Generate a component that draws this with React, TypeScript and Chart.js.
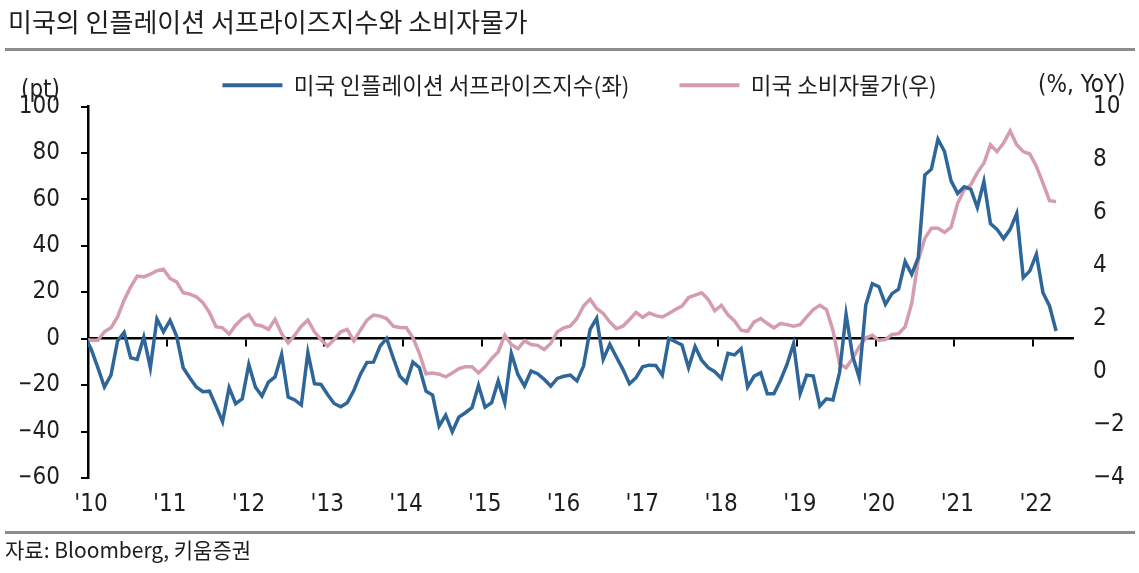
import React, { useEffect, useRef } from 'react';
import { Chart, registerables } from 'chart.js';

Chart.register(...registerables);

const TITLE = '미국의 인플레이션 서프라이즈지수와 소비자물가';
const SOURCE = '자료: Bloomberg, 키움증권';
const SERIES_NAMES = ['미국 인플레이션 서프라이즈지수(좌)', '미국 소비자물가(우)'];
const LEFT_UNIT = '(pt)';
const RIGHT_UNIT = '(%, YoY)';
const YEAR_LABELS = ["'10", "'11", "'12", "'13", "'14", "'15", "'16", "'17", "'18", "'19", "'20", "'21", "'22"];

// month offset of the first observation relative to Jan 2010 (Dec 2009)
const FIRST_MONTH = -1;

const surpriseIndex = [
  1, -4.6, -12.5, -20.8, -15.7, -1.0, 2.7, -8.2, -8.9, 0.7, -12.5, 8.5,
  3.0, 7.9, 1.1, -12.5, -16.8, -20.8, -22.8, -22.6, -29.0, -35.8, -21.1, -28.0,
  -25.9, -11.1, -20.8, -24.7, -18.7, -16.5, -6.8, -25.1, -26.4, -28.6, -6.0, -19.4,
  -19.7, -24.0, -27.9, -29.3, -27.6, -22.3, -15.4, -10.2, -10.1, -3.2, 0.1, -8.2,
  -16.1, -19.0, -10.1, -12.5, -22.6, -24.3, -37.6, -32.9, -40.1, -33.8, -31.9, -29.7,
  -20.1, -29.5, -27.6, -18.2, -27.6, -6.3, -15.4, -20.4, -13.9, -15.1, -17.5, -20.4,
  -17.1, -16.2, -15.7, -18.2, -11.8, 4.0, 8.8, -8.9, -2.4, -7.9, -13.2, -19.4,
  -16.8, -12.1, -11.4, -11.5, -15.7, 0.1, -1.3, -2.7, -12.5, -3.4, -9.3, -12.5,
  -14.2, -17.1, -6.3, -7.0, -4.3, -20.8, -16.1, -14.7, -23.7, -23.7, -18.0, -11.1,
  -2.2, -23.7, -15.7, -16.1, -29.0, -25.9, -26.4, -14.7, 10.5, -7.5, -16.8, 14.5,
  23.7, 22.4, 14.8, 19.4, 21.3, 33.2, 27.7, 34.9, 70.5, 73.0, 85.9, 80.6,
  68.0, 62.5, 65.4, 64.4, 56.5, 67.7, 49.6, 47.1, 43.1, 47.1, 53.9, 26.3,
  29.2, 36.4, 19.8, 14.1, 3.3,
];

const cpiYoY = [
  1.22, 1.19, 1.19, 1.51, 1.66, 2.07, 2.70, 3.20, 3.61, 3.58, 3.68, 3.81,
  3.87, 3.52, 3.39, 2.98, 2.93, 2.83, 2.61, 2.24, 1.70, 1.66, 1.42, 1.76,
  2.01, 2.16, 1.78, 1.73, 1.60, 1.98, 1.44, 1.09, 1.38, 1.72, 1.95, 1.51,
  1.22, 0.97, 1.22, 1.51, 1.60, 1.17, 1.57, 1.95, 2.14, 2.10, 2.01, 1.72,
  1.67, 1.66, 1.29, 0.69, -0.07, -0.04, -0.09, -0.19, -0.04, 0.12, 0.19, 0.19,
  -0.04, 0.19, 0.50, 0.75, 1.38, 1.03, 0.87, 1.17, 1.03, 1.00, 0.84, 1.07,
  1.51, 1.66, 1.73, 2.01, 2.48, 2.74, 2.39, 2.20, 1.88, 1.63, 1.72, 1.97,
  2.24, 2.05, 2.22, 2.12, 2.07, 2.20, 2.35, 2.48, 2.80, 2.89, 2.98, 2.73,
  2.30, 2.51, 2.15, 1.92, 1.57, 1.53, 1.88, 2.01, 1.82, 1.66, 1.82, 1.78,
  1.72, 1.78, 2.07, 2.35, 2.51, 2.35, 1.57, 0.31, 0.15, 0.50, 0.94, 1.28,
  1.38, 1.19, 1.22, 1.41, 1.44, 1.70, 2.58, 4.21, 5.03, 5.41, 5.41, 5.26,
  5.45, 6.35, 6.86, 7.05, 7.51, 7.86, 8.56, 8.30, 8.62, 9.08, 8.56, 8.30,
  8.21, 7.74, 7.11, 6.45, 6.42,
];

const LEFT_MIN = -60;
const LEFT_MAX = 100;
const LEFT_STEP = 20;
const RIGHT_MIN = -4;
const RIGHT_MAX = 10;
const RIGHT_STEP = 2;
const MONTHS_SHOWN = 150;

const BLUE = '#2f6699';
const PINK = '#d49cad';
const TEXT = '#1e1e1e';
const RULE = '#8c8c8c';
const NUM_FONT = "'Liberation Sans Narrow', 'DejaVu Sans Condensed', 'Arial Narrow', 'Liberation Sans', sans-serif";
const KR_FONT = "'Noto Sans CJK KR', 'Noto Sans', sans-serif";

const minus = (v: number | string) => String(v).replace('-', '\u2212');

export default function App() {
  const canvasRef = useRef<HTMLCanvasElement | null>(null);

  useEffect(() => {
    const canvas = canvasRef.current;
    if (!canvas) return;
    const toPoints = (vals: number[]) => vals.map((v, i) => ({ x: FIRST_MONTH + i + 0.5, y: v }));
    const numFont = { family: NUM_FONT, size: 24 };

    const chart = new Chart(canvas, {
      type: 'line',
      data: {
        datasets: [
          {
            label: SERIES_NAMES[0],
            data: toPoints(surpriseIndex),
            xAxisID: 'x',
            yAxisID: 'y',
            borderColor: BLUE,
            backgroundColor: BLUE,
            borderWidth: 3.5,
            pointRadius: 0,
            tension: 0,
            clip: { left: 0, right: false, top: false, bottom: false } as any,
          },
          {
            label: SERIES_NAMES[1],
            data: toPoints(cpiYoY),
            xAxisID: 'x',
            yAxisID: 'y1',
            borderColor: PINK,
            backgroundColor: PINK,
            borderWidth: 3.5,
            pointRadius: 0,
            tension: 0,
            clip: { left: 0, right: false, top: false, bottom: false } as any,
          },
        ],
      },
      options: {
        animation: false,
        responsive: false,
        events: [],
        layout: { padding: { left: 20, top: 24, right: 0, bottom: 55 } },
        plugins: {
          tooltip: { enabled: false },
          legend: {
            position: 'top',
            align: 'center',
            labels: {
              boxWidth: 60,
              boxHeight: 4,
              padding: 50,
              color: TEXT,
              font: { family: KR_FONT, size: 22.5 },
              generateLabels: (ch: any) =>
                ch.data.datasets.map((ds: any, i: number) => ({
                  text: ds.label,
                  fillStyle: ds.borderColor,
                  strokeStyle: ds.borderColor,
                  lineWidth: 0,
                  hidden: false,
                  datasetIndex: i,
                  fontColor: TEXT,
                })),
            },
          },
        },
        scales: {
          x: {
            type: 'linear',
            position: { y: 0 } as any,
            min: 0,
            max: MONTHS_SHOWN,
            ticks: { display: false, stepSize: 12, includeBounds: false } as any,
            grid: { drawOnChartArea: false, drawTicks: true, tickLength: 7, color: '#000', lineWidth: 2 },
            border: { display: true, color: '#000', width: 2.5 },
          },
          x2: {
            type: 'linear',
            position: 'bottom',
            min: 0,
            max: MONTHS_SHOWN,
            ticks: {
              stepSize: 12,
              includeBounds: false,
              padding: 12,
              labelOffset: 3,
              maxRotation: 0,
              autoSkip: false,
              color: TEXT,
              font: numFont,
              callback: (v: any) => YEAR_LABELS[Math.round(Number(v) / 12)] ?? '',
            } as any,
            grid: { display: false, drawTicks: false },
            border: { display: false },
            afterFit: (s: any) => {
              s.height = 40;
            },
          },
          y: {
            type: 'linear',
            position: 'left',
            min: LEFT_MIN,
            max: LEFT_MAX,
            ticks: { stepSize: LEFT_STEP, padding: 21, color: TEXT, font: numFont, callback: (v: any) => minus(v) },
            grid: { drawOnChartArea: false, drawTicks: true, tickLength: 7, color: '#000', lineWidth: 2 },
            border: { display: true, color: '#000', width: 2.5 },
            afterFit: (s: any) => {
              s.width = 68;
            },
          },
          y1: {
            type: 'linear',
            position: 'right',
            min: RIGHT_MIN,
            max: RIGHT_MAX,
            ticks: { stepSize: RIGHT_STEP, padding: 20.5, color: TEXT, font: numFont, callback: (v: any) => minus(v) },
            grid: { display: false, drawTicks: false },
            border: { display: false },
            afterFit: (s: any) => {
              s.width = 66.5;
            },
          },
        },
      },
    });
    return () => chart.destroy();
  }, []);

  return (
    <div style={{ position: 'absolute', left: 0, top: 0, width: 1139, height: 573, background: '#fff', overflow: 'hidden' }}>
      <canvas ref={canvasRef} width={1139} height={573} style={{ position: 'absolute', left: 0, top: 0, width: 1139, height: 573 }} />
      <div style={{ position: 'absolute', left: 8, top: 6, fontFamily: KR_FONT, fontSize: 26, lineHeight: '30px', color: TEXT, whiteSpace: 'nowrap' }}>
        {TITLE}
      </div>
      <div style={{ position: 'absolute', left: 5, right: 4, top: 48, height: 3, background: RULE }} />
      <div style={{ position: 'absolute', left: 0, width: 60, top: 77, textAlign: 'right', fontFamily: NUM_FONT, fontSize: 24, lineHeight: '24px', color: TEXT, whiteSpace: 'nowrap' }}>
        {LEFT_UNIT}
      </div>
      <div style={{ position: 'absolute', left: 1038, top: 72, fontFamily: NUM_FONT, fontSize: 24, lineHeight: '24px', color: TEXT, whiteSpace: 'nowrap' }}>
        {RIGHT_UNIT}
      </div>
      <div style={{ position: 'absolute', left: 5, right: 4, top: 531, height: 3, background: RULE }} />
      <div style={{ position: 'absolute', left: 5, top: 537, fontFamily: KR_FONT, fontSize: 21, lineHeight: '24px', color: TEXT, whiteSpace: 'nowrap' }}>
        {SOURCE}
      </div>
    </div>
  );
}
